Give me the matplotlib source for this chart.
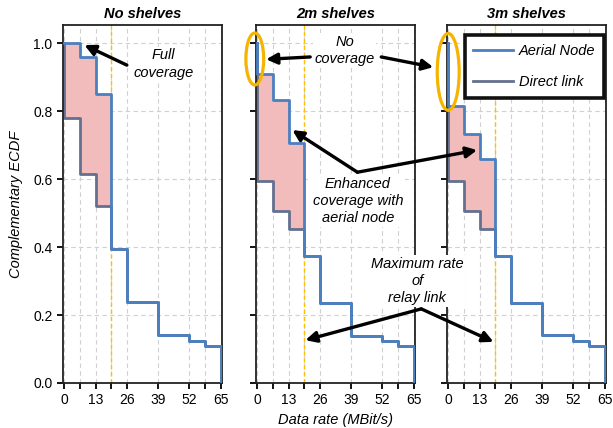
import matplotlib
matplotlib.use("Agg")
import matplotlib.pyplot as plt
from matplotlib.patches import Ellipse
import numpy as np

plt.rcParams['font.family'] = ['Liberation Sans', 'DejaVu Sans']
plt.rcParams['font.size'] = 10

# bin edges of the data rate (MBit/s)
edges = [0, 6.5, 13, 19.5, 26, 39, 52, 58.5, 65]
titles = ["No shelves", "2m shelves", "3m shelves"]

# complementary ECDF per bin
aerial = [
    [1.0, 0.96, 0.85, 0.395, 0.237, 0.142, 0.125, 0.11],
    [0.91, 0.832, 0.705, 0.374, 0.235, 0.139, 0.124, 0.11],
    [0.814, 0.732, 0.658, 0.374, 0.235, 0.142, 0.125, 0.11],
]
direct = [
    [0.78, 0.615, 0.52, 0.395, 0.237, 0.142, 0.125, 0.11],
    [0.594, 0.506, 0.454, 0.374, 0.235, 0.139, 0.124, 0.11],
    [0.595, 0.506, 0.454, 0.374, 0.235, 0.142, 0.125, 0.11],
]
relay_rate = 19.5

c_aer = '#4a7fc0'
c_dir = '#63708f'
c_fill = '#f2bcbc'
c_yel = '#ffc000'
c_ell = '#f5b400'


def step_xy(vals):
    xs = [0]
    ys = [1.0]
    for i, v in enumerate(vals):
        xs += [edges[i], edges[i + 1]]
        ys += [v, v]
    xs.append(edges[-1])
    ys.append(0)
    return xs, ys


fig = plt.figure(figsize=(6.13, 4.28), dpi=100)
lefts = [63, 256, 447]
axes = []
for k in range(3):
    ax = fig.add_axes([lefts[k] / 613, 45 / 428, 159 / 613, 358 / 428])
    axes.append(ax)

    ax.set_xlim(-0.5, 65.5)
    ax.set_ylim(0, 1.053)
    ax.set_xticks([0, 13, 26, 39, 52, 65])
    ax.set_xticks(edges, minor=True)
    ax.set_yticks([0, 0.2, 0.4, 0.6, 0.8, 1.0])
    ax.grid(True, which='both', axis='x', ls=(0, (4, 3)), color='#d0d0d0', lw=0.8)
    ax.grid(True, which='major', axis='y', ls=(0, (4, 3)), color='#d0d0d0', lw=0.8)
    ax.set_axisbelow(True)
    ax.tick_params(which='both', direction='out', length=4, width=1.3, color='k')
    for s in ax.spines.values():
        s.set_color('#222222')
        s.set_linewidth(1.3)
    if k > 0:
        ax.set_yticklabels([])
    else:
        ax.set_yticklabels(['0.0', '0.2', '0.4', '0.6', '0.8', '1.0'])

    fx = np.repeat(edges[:4], 2)[1:-1]
    fa = np.repeat(aerial[k][:3], 2)
    fd = np.repeat(direct[k][:3], 2)
    ax.fill_between(fx, fd, fa, color=c_fill, lw=0, zorder=1)

    ax.axvline(relay_rate, color=c_yel, ls=(0, (3, 2)), lw=1.0, zorder=1.5)

    xs, ys = step_xy(direct[k])
    ax.plot(xs, ys, color=c_dir, lw=2.0, label='Direct link', zorder=2)
    xs, ys = step_xy(aerial[k])
    ax.plot(xs, ys, color=c_aer, lw=2.0, label='Aerial Node', zorder=3)

    ax.set_title(titles[k], fontweight='bold', style='italic', fontsize=10.5, pad=5)

ax1, ax2, ax3 = axes
ax1.set_ylabel('Complementary ECDF', style='italic', fontsize=10.5, labelpad=7)
ax2.set_xlabel('Data rate (MBit/s)', style='italic', fontsize=10.5, labelpad=4)

h, l = ax3.get_legend_handles_labels()
leg = ax3.legend(h[::-1], l[::-1], loc='upper right', bbox_to_anchor=(0.987, 0.972),
                 borderaxespad=0, fancybox=False, framealpha=1, edgecolor='#111111',
                 prop={'style': 'italic', 'size': 10.5}, handlelength=2.7,
                 labelspacing=1.2, borderpad=0.6, handletextpad=0.4)
leg.get_frame().set_linewidth(2.6)

# orange ellipses marking the "no coverage" share
ax2.add_patch(Ellipse((-1.0, 0.953), 7.4, 0.153, fill=False, ec=c_ell, lw=2.3,
                      clip_on=False, zorder=5))
ax3.add_patch(Ellipse((0.0, 0.915), 9.1, 0.226, fill=False, ec=c_ell, lw=2.3,
                      clip_on=False, zorder=5))

arw = dict(arrowstyle='-|>', lw=2.4, color='k', mutation_scale=16, shrinkA=0, shrinkB=0)


def arrow(ax_head, head, ax_tail, tail):
    a = ax3.annotate('', xy=head, xycoords=ax_head.transData, xytext=tail,
                     textcoords=ax_tail.transData, arrowprops=arw, annotation_clip=False)
    a.set_zorder(10)


arrow(ax1, (8.4, 0.994), ax1, (26.0, 0.935))
arrow(ax2, (3.7, 0.952), ax2, (22.0, 0.959))
arrow(ax3, (-6.2, 0.929), ax2, (51.5, 0.959))
arrow(ax2, (14.6, 0.744), ax2, (41.6, 0.62))
arrow(ax3, (12.0, 0.685), ax2, (41.6, 0.62))
arrow(ax2, (20.0, 0.126), ax2, (68.1, 0.218))
arrow(ax3, (18.8, 0.121), ax2, (68.1, 0.218))

tk = dict(ha='center', va='center', style='italic', fontsize=10.5, linespacing=1.3,
          bbox=dict(facecolor='white', edgecolor='none', pad=1), zorder=11)
ax3.text(41.2, 0.938, 'Full\ncoverage', transform=ax1.transData, **tk)
ax3.text(36.4, 0.979, 'No\ncoverage', transform=ax2.transData, **tk)
ax3.text(41.8, 0.535, 'Enhanced\ncoverage with\naerial node', transform=ax2.transData, **tk)
ax3.text(66.5, 0.30, 'Maximum rate\nof\nrelay link', transform=ax2.transData, **tk)

fig.savefig('out.png', dpi=100)
